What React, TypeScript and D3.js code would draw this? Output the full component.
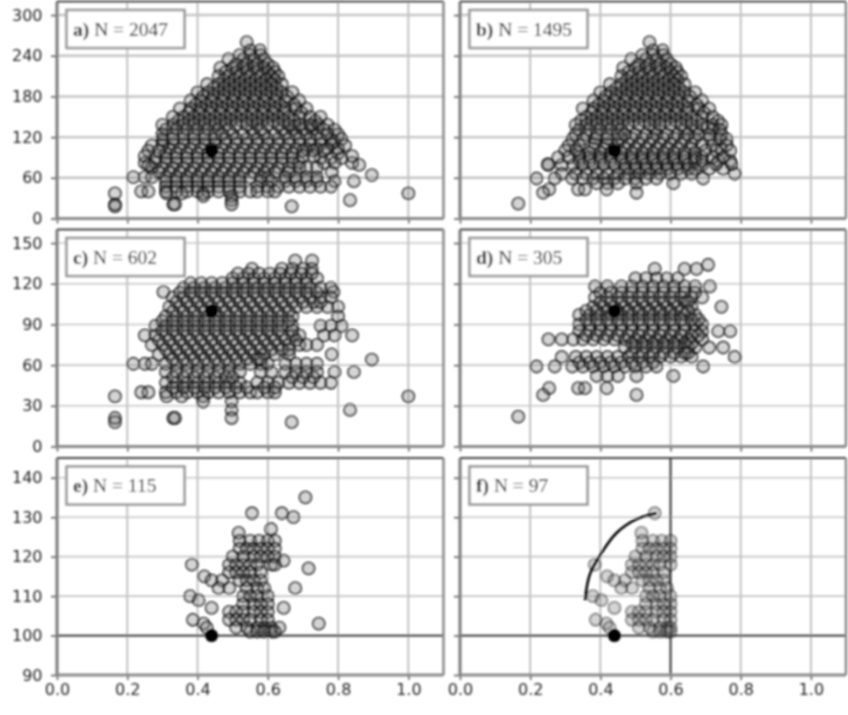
import React, { useEffect, useRef } from "react";
import * as d3 from "d3";

type Row = [number, number[]];

// rows are [y, x values], the points sit on a rough lattice in the picture
const rowsC: Row[] = [
  [137, [0.678, 0.726]],
  [131, [0.555, 0.64, 0.67, 0.7, 0.725]],
  [124, [0.5, 0.53, 0.56, 0.59, 0.62, 0.65, 0.68, 0.71, 0.74]],
  [117, [0.36, 0.39, 0.42, 0.45, 0.48, 0.51, 0.54, 0.57, 0.6, 0.63, 0.66, 0.69, 0.72, 0.75, 0.78]],
  [114, [0.303, 0.787]],
  [110, [0.33, 0.36, 0.39, 0.42, 0.45, 0.48, 0.51, 0.54, 0.57, 0.6, 0.63, 0.66, 0.69, 0.72, 0.75, 0.78]],
  [103, [0.32, 0.35, 0.38, 0.41, 0.44, 0.47, 0.5, 0.53, 0.56, 0.59, 0.62, 0.65, 0.68, 0.71, 0.74, 0.77, 0.8]],
  [96, [0.31, 0.34, 0.37, 0.4, 0.43, 0.46, 0.49, 0.52, 0.55, 0.58, 0.61, 0.64, 0.67, 0.8]],
  [89, [0.28, 0.31, 0.34, 0.37, 0.4, 0.43, 0.46, 0.49, 0.52, 0.55, 0.58, 0.61, 0.64, 0.67, 0.75, 0.78, 0.81]],
  [82, [0.25, 0.28, 0.31, 0.34, 0.37, 0.4, 0.43, 0.46, 0.49, 0.52, 0.55, 0.58, 0.61, 0.64, 0.67, 0.69, 0.76, 0.79, 0.84]],
  [75, [0.27, 0.3, 0.33, 0.36, 0.39, 0.42, 0.45, 0.48, 0.51, 0.54, 0.57, 0.6, 0.63, 0.66, 0.69, 0.71, 0.74]],
  [68, [0.29, 0.32, 0.35, 0.38, 0.41, 0.44, 0.47, 0.5, 0.53, 0.56, 0.59, 0.62, 0.66, 0.782]],
  [64, [0.896]],
  [61, [0.217, 0.25, 0.27, 0.31, 0.34, 0.37, 0.4, 0.43, 0.46, 0.49, 0.52, 0.55, 0.58, 0.6, 0.65, 0.68, 0.71, 0.74]],
  [55, [0.31, 0.34, 0.37, 0.4, 0.43, 0.46, 0.49, 0.52, 0.58, 0.61, 0.65, 0.68, 0.71, 0.74, 0.79, 0.845]],
  [47, [0.31, 0.34, 0.37, 0.4, 0.43, 0.46, 0.49, 0.52, 0.57, 0.6, 0.63, 0.66, 0.69, 0.72, 0.75, 0.78]],
  [40, [0.24, 0.26, 0.31, 0.34, 0.37, 0.4, 0.43, 0.46, 0.49, 0.52, 0.55, 0.57, 0.6, 0.62]],
  [37, [0.165, 0.312, 0.355, 0.416, 1.0]],
  [33, [0.416, 0.497]],
  [27, [0.497, 0.834]],
  [21, [0.165, 0.331, 0.336, 0.497]],
  [18, [0.165, 0.668]],
];

// in-between rows that only show up at the zoomed scale of panel c
const fillC: Row[] = [
  [127.5, [0.515, 0.545, 0.575, 0.605, 0.635, 0.665, 0.695, 0.725]],
  [120.5, [0.38, 0.41, 0.44, 0.47, 0.5, 0.53, 0.56, 0.59, 0.62, 0.65, 0.68, 0.71]],
  [113.5, [0.35, 0.38, 0.41, 0.44, 0.47, 0.5, 0.53, 0.56, 0.59, 0.62, 0.65, 0.68, 0.71, 0.74]],
  [106.5, [0.34, 0.37, 0.4, 0.43, 0.46, 0.49, 0.52, 0.55, 0.58, 0.61, 0.64, 0.67, 0.7, 0.73, 0.75]],
  [99.5, [0.33, 0.36, 0.39, 0.42, 0.45, 0.48, 0.51, 0.54, 0.57, 0.6, 0.63, 0.66]],
  [92.5, [0.3, 0.33, 0.36, 0.39, 0.42, 0.45, 0.48, 0.51, 0.54, 0.57, 0.6, 0.63, 0.66]],
  [85.5, [0.3, 0.33, 0.36, 0.39, 0.42, 0.45, 0.48, 0.51, 0.54, 0.57, 0.6, 0.63, 0.67]],
  [78.5, [0.29, 0.32, 0.35, 0.38, 0.41, 0.44, 0.47, 0.5, 0.53, 0.56, 0.59, 0.62, 0.65, 0.68]],
  [71.5, [0.31, 0.34, 0.37, 0.4, 0.43, 0.46, 0.49, 0.52, 0.55, 0.58, 0.61, 0.64, 0.66]],
  [64.5, [0.33, 0.36, 0.39, 0.42, 0.45, 0.48, 0.51, 0.54, 0.57, 0.58]],
  [51, [0.33, 0.36, 0.39, 0.42, 0.45, 0.48, 0.5, 0.67, 0.7, 0.73]],
  [43.5, [0.33, 0.36, 0.39, 0.42, 0.45, 0.48, 0.51, 0.54, 0.59, 0.62]],
];

const rowsD: Row[] = [
  [134, [0.707]],
  [131, [0.555, 0.64, 0.674]],
  [124, [0.5, 0.53, 0.56, 0.59, 0.62]],
  [118, [0.385, 0.42, 0.46, 0.49, 0.52, 0.55, 0.58, 0.61, 0.64, 0.67, 0.712]],
  [110, [0.385, 0.42, 0.45, 0.48, 0.51, 0.54, 0.57, 0.6, 0.63, 0.66, 0.69]],
  [103, [0.38, 0.41, 0.44, 0.47, 0.5, 0.53, 0.56, 0.59, 0.62, 0.66, 0.745]],
  [97, [0.34, 0.37, 0.4, 0.43, 0.46, 0.49, 0.52, 0.55, 0.58, 0.61, 0.64, 0.67]],
  [90, [0.34, 0.37, 0.4, 0.43, 0.46, 0.49, 0.52, 0.55, 0.58, 0.61, 0.64, 0.67, 0.69]],
  [85, [0.34, 0.37, 0.4, 0.43, 0.46, 0.49, 0.52, 0.55, 0.58, 0.61, 0.64, 0.67, 0.69, 0.736, 0.77]],
  [79, [0.252, 0.29, 0.323, 0.35, 0.38, 0.41, 0.44, 0.47, 0.5, 0.53, 0.56, 0.59, 0.62, 0.65, 0.69]],
  [73, [0.47, 0.5, 0.53, 0.56, 0.59, 0.62, 0.65, 0.67, 0.71, 0.75]],
  [66, [0.29, 0.33, 0.36, 0.39, 0.42, 0.45, 0.48, 0.51, 0.54, 0.57, 0.6, 0.63, 0.66, 0.783]],
  [59, [0.218, 0.27, 0.32, 0.35, 0.38, 0.41, 0.44, 0.47, 0.5, 0.53, 0.56, 0.693]],
  [52, [0.39, 0.42, 0.45, 0.503, 0.608]],
  [43, [0.254, 0.337, 0.356, 0.418]],
  [38, [0.237, 0.503]],
  [22, [0.166]],
];

const fillD: Row[] = [
  [113.5, [0.4, 0.43, 0.46, 0.49, 0.52, 0.55, 0.58, 0.61, 0.64, 0.67]],
  [106.5, [0.4, 0.43, 0.46, 0.49, 0.52, 0.55, 0.58, 0.61, 0.64, 0.65]],
  [100, [0.36, 0.39, 0.42, 0.45, 0.48, 0.51, 0.54, 0.57, 0.6, 0.63, 0.65]],
  [93.5, [0.36, 0.39, 0.42, 0.45, 0.48, 0.51, 0.54, 0.57, 0.6, 0.63, 0.66, 0.68]],
  [82, [0.36, 0.39, 0.42, 0.45, 0.48, 0.51, 0.54, 0.57, 0.6, 0.63, 0.66, 0.68]],
  [76, [0.49, 0.52, 0.55, 0.58, 0.61, 0.64, 0.66]],
  [69, [0.49, 0.52, 0.55, 0.58, 0.61, 0.64, 0.65]],
  [62, [0.34, 0.37, 0.4, 0.43, 0.46, 0.49, 0.52, 0.55]],
];

const upperRows: Row[] = [
  [260, [0.54]],
  [248, [0.55, 0.578]],
  [241, [0.52, 0.55, 0.58]],
  [235, [0.488, 0.53, 0.56, 0.59]],
  [228, [0.51, 0.54, 0.57, 0.6]],
  [222, [0.465, 0.5, 0.53, 0.56, 0.59, 0.615]],
  [216, [0.48, 0.51, 0.54, 0.57, 0.6, 0.62]],
  [210, [0.46, 0.49, 0.52, 0.55, 0.58, 0.61, 0.63]],
  [204, [0.475, 0.505, 0.535, 0.565, 0.595, 0.62]],
  [198, [0.427, 0.46, 0.49, 0.52, 0.55, 0.58, 0.61, 0.64]],
  [192, [0.445, 0.475, 0.505, 0.535, 0.565, 0.595, 0.625]],
  [186, [0.4, 0.43, 0.46, 0.49, 0.52, 0.55, 0.58, 0.61, 0.64, 0.67]],
  [180, [0.415, 0.445, 0.475, 0.505, 0.535, 0.565, 0.595, 0.625, 0.655]],
  [174, [0.38, 0.41, 0.44, 0.47, 0.5, 0.53, 0.56, 0.59, 0.62, 0.65, 0.69]],
  [168, [0.395, 0.425, 0.455, 0.485, 0.515, 0.545, 0.575, 0.605, 0.635, 0.675]],
  [162, [0.35, 0.38, 0.41, 0.44, 0.47, 0.5, 0.53, 0.56, 0.59, 0.62, 0.65, 0.68, 0.71]],
  [156, [0.375, 0.405, 0.435, 0.465, 0.495, 0.525, 0.555, 0.585, 0.615, 0.645, 0.695]],
  [150, [0.36, 0.39, 0.42, 0.45, 0.48, 0.51, 0.54, 0.57, 0.6, 0.63, 0.66, 0.69, 0.72]],
  [144, [0.345, 0.375, 0.405, 0.435, 0.465, 0.495, 0.525, 0.555, 0.585, 0.615, 0.645, 0.675, 0.735]],
  [138, [0.33, 0.36, 0.39, 0.42, 0.45, 0.48, 0.51, 0.54, 0.57, 0.6, 0.63, 0.66, 0.69, 0.72, 0.745]],
];

// points of a and b that the later panels drop
const extraA: Row[] = [
  [150, [0.33, 0.75]],
  [138, [0.3, 0.77]],
  [131, [0.31, 0.34, 0.37, 0.4, 0.43, 0.46, 0.49, 0.58, 0.76, 0.79]],
  [124, [0.3, 0.33, 0.36, 0.39, 0.42, 0.45, 0.47, 0.77, 0.8]],
  [117, [0.3, 0.33, 0.81]],
  [108, [0.27, 0.3, 0.82]],
  [100, [0.26, 0.29, 0.7, 0.73, 0.76]],
  [92, [0.25, 0.7, 0.73, 0.84]],
  [79, [0.26, 0.86]],
];
const extraB: Row[] = [
  [131, [0.34, 0.37, 0.4, 0.43, 0.46, 0.72, 0.74]],
  [124, [0.33, 0.36, 0.39, 0.42, 0.45, 0.47, 0.65, 0.68, 0.71, 0.745]],
  [117, [0.32, 0.35, 0.74, 0.76]],
  [108, [0.31, 0.34, 0.72, 0.76]],
  [100, [0.3, 0.33, 0.7, 0.73, 0.77]],
  [90, [0.28, 0.31, 0.72, 0.75]],
  [80, [0.25, 0.73, 0.774]],
];

const rowsE: Row[] = [
  [135, [0.707]],
  [131, [0.555, 0.64]],
  [130, [0.673]],
  [127, [0.609]],
  [126, [0.517]],
  [124, [0.52, 0.55, 0.575, 0.6, 0.62]],
  [122, [0.52, 0.54, 0.56, 0.58, 0.6, 0.62]],
  [120, [0.5, 0.53, 0.56, 0.58, 0.6, 0.62]],
  [119, [0.645]],
  [118, [0.384, 0.49, 0.51, 0.53, 0.55, 0.57, 0.61, 0.62]],
  [117, [0.716]],
  [116, [0.49, 0.51, 0.53, 0.55, 0.58]],
  [115, [0.419]],
  [114, [0.44, 0.47, 0.52, 0.54, 0.56, 0.58]],
  [112, [0.46, 0.49, 0.54, 0.57, 0.59, 0.678]],
  [110, [0.379, 0.53, 0.55, 0.57, 0.6]],
  [109, [0.403]],
  [108, [0.53, 0.56, 0.58, 0.6]],
  [107, [0.44, 0.645]],
  [106, [0.49, 0.51, 0.53, 0.56, 0.58, 0.6]],
  [104, [0.387, 0.49, 0.51, 0.53, 0.55, 0.58, 0.6]],
  [103, [0.417, 0.745]],
  [102, [0.426, 0.51, 0.54, 0.57, 0.59, 0.61, 0.633]],
  [101, [0.55, 0.57, 0.59, 0.61, 0.62]],
];

const rowsF: Row[] = [
  [131, [0.555]],
  [126, [0.517]],
  [124, [0.52, 0.55, 0.575, 0.6]],
  [122, [0.52, 0.54, 0.56, 0.58, 0.6]],
  [120, [0.5, 0.53, 0.56, 0.58, 0.6]],
  [118, [0.384, 0.49, 0.51, 0.53, 0.55, 0.57, 0.6]],
  [116, [0.49, 0.51, 0.53, 0.55, 0.58]],
  [115, [0.419]],
  [114, [0.44, 0.47, 0.52, 0.54, 0.56, 0.58]],
  [112, [0.46, 0.49, 0.54, 0.57, 0.59]],
  [110, [0.379, 0.53, 0.55, 0.57, 0.6]],
  [109, [0.403]],
  [108, [0.53, 0.56, 0.58, 0.6]],
  [107, [0.44]],
  [106, [0.49, 0.51, 0.53, 0.56, 0.58, 0.6]],
  [104, [0.387, 0.49, 0.51, 0.53, 0.55, 0.58, 0.6]],
  [103, [0.417]],
  [102, [0.426, 0.51, 0.54, 0.57, 0.59, 0.6]],
  [101, [0.55, 0.57, 0.59, 0.6]],
];

const arcF: [number, number][] = [
  [0.356, 109],
  [0.37, 115.5],
  [0.4, 120.5],
  [0.446, 126],
  [0.503, 129.5],
  [0.56, 131],
];

const refPoint: [number, number] = [0.44, 100];
const xTicks = [0, 0.2, 0.4, 0.6, 0.8, 1.0];
const yTicksTop = [0, 60, 120, 180, 240, 300];
const yTicksMid = [0, 30, 60, 90, 120, 150];
const yTicksLow = [90, 100, 110, 120, 130, 140];
const labels = ["a) N = 2047", "b) N = 1495", "c) N = 602", "d) N = 305", "e) N = 115", "f) N = 97"];

const flat = (rows: Row[]) => rows.flatMap(([y, xs]) => xs.map((x) => [x, y] as [number, number]));

const pointSets = [
  flat([...rowsC, ...upperRows, ...extraA]),
  flat([...rowsD, ...upperRows, ...extraB]),
  flat([...rowsC, ...fillC]),
  flat([...rowsD, ...fillD]),
  flat(rowsE),
  flat(rowsF),
];

const rowBoxes = [
  { top: 1.5, bottom: 218.5, domain: [0, 320], ticks: yTicksTop },
  { top: 229.5, bottom: 446.5, domain: [0, 160], ticks: yTicksMid },
  { top: 458, bottom: 675, domain: [90, 145], ticks: yTicksLow },
];
const colBoxes = [
  { left: 57, right: 443.5 },
  { left: 460, right: 846 },
];

export default function App() {
  const ref = useRef<SVGSVGElement>(null);

  useEffect(() => {
    const svg = d3.select(ref.current);
    svg.selectAll("*").remove();
    const defs = svg.append("defs");
    defs.append("filter").attr("id", "soft").append("feGaussianBlur").attr("stdDeviation", 0.8);
    const root = svg.append("g").attr("filter", "url(#soft)");

    labels.forEach((label, i) => {
      const col = i % 2;
      const row = Math.floor(i / 2);
      const box = rowBoxes[row];
      const c = colBoxes[col];
      const x = d3.scaleLinear().domain([0, 1.1]).range([c.left, c.right]);
      const y = d3.scaleLinear().domain(box.domain).range([box.bottom, box.top]);
      const g = root.append("g");
      const clipId = `clip-${i}`;
      defs
        .append("clipPath")
        .attr("id", clipId)
        .append("rect")
        .attr("x", c.left)
        .attr("y", box.top)
        .attr("width", c.right - c.left)
        .attr("height", box.bottom - box.top);

      // grid
      g.selectAll(".gx")
        .data(xTicks)
        .join("line")
        .attr("x1", (d) => x(d))
        .attr("x2", (d) => x(d))
        .attr("y1", box.top)
        .attr("y2", box.bottom)
        .attr("stroke", "#b4b4b4")
        .attr("stroke-width", 1.6);
      g.selectAll(".gy")
        .data(box.ticks)
        .join("line")
        .attr("x1", c.left)
        .attr("x2", c.right)
        .attr("y1", (d) => y(d))
        .attr("y2", (d) => y(d))
        .attr("stroke", "#c4c4c4")
        .attr("stroke-width", row === 0 ? 2.4 : 1.6);

      // axes
      const yAxis = g
        .append("g")
        .attr("transform", `translate(${c.left},0)`)
        .call(
          d3
            .axisLeft(y)
            .tickValues(box.ticks)
            .tickSize(6)
            .tickFormat(col === 0 ? (d) => String(d) : () => "")
        );
      yAxis.select(".domain").remove();
      yAxis.selectAll("line").attr("stroke", "#555").attr("stroke-width", 1.5);
      yAxis
        .selectAll("text")
        .attr("font-family", "DejaVu Sans")
        .attr("font-size", 16)
        .attr("fill", "#222")
        .attr("x", -14.5);

      const xAxis = g
        .append("g")
        .attr("transform", `translate(0,${box.bottom})`)
        .call(
          d3
            .axisBottom(x)
            .tickValues(xTicks)
            .tickSize(5)
            .tickFormat(row === 2 ? (d) => d3.format(".1f")(d as number) : () => "")
        );
      xAxis.select(".domain").remove();
      xAxis.selectAll("line").attr("stroke", "#555").attr("stroke-width", 1.5);
      xAxis
        .selectAll("text")
        .attr("font-family", "DejaVu Sans")
        .attr("font-size", 16)
        .attr("fill", "#222")
        .attr("y", 9);

      const plot = g.append("g").attr("clip-path", `url(#${clipId})`);

      // limits used in the lower panels
      if (row === 2) {
        plot
          .append("line")
          .attr("x1", c.left)
          .attr("x2", c.right)
          .attr("y1", y(100))
          .attr("y2", y(100))
          .attr("stroke", "#222")
          .attr("stroke-width", 1.8);
      }
      if (i === 5) {
        plot
          .append("line")
          .attr("x1", x(0.6))
          .attr("x2", x(0.6))
          .attr("y1", box.top)
          .attr("y2", box.bottom)
          .attr("stroke", "#222")
          .attr("stroke-width", 1.8);
      }

      plot
        .selectAll(".pt")
        .data(pointSets[i])
        .join("circle")
        .attr("cx", (d) => x(d[0]))
        .attr("cy", (d) => y(d[1]))
        .attr("r", 6)
        .attr("fill", "#707070")
        .attr("fill-opacity", 0.3)
        .attr("stroke", "#000")
        .attr("stroke-opacity", i === 5 ? 0.45 : 0.7)
        .attr("stroke-width", 1.8);

      plot
        .append("circle")
        .attr("cx", x(refPoint[0]))
        .attr("cy", y(refPoint[1]))
        .attr("r", 6.5)
        .attr("fill", "#000");

      if (i === 5) {
        const line = d3
          .line<[number, number]>()
          .x((d) => x(d[0]))
          .y((d) => y(d[1]))
          .curve(d3.curveCatmullRom);
        plot
          .append("path")
          .attr("d", line(arcF))
          .attr("fill", "none")
          .attr("stroke", "#000")
          .attr("stroke-width", 2.6);
      }

      // frame
      g.append("line")
        .attr("x1", c.left)
        .attr("x2", c.left)
        .attr("y1", box.top)
        .attr("y2", box.bottom)
        .attr("stroke", "#7a7a7a")
        .attr("stroke-width", 3);
      g.append("line")
        .attr("x1", c.left)
        .attr("x2", c.right)
        .attr("y1", box.bottom)
        .attr("y2", box.bottom)
        .attr("stroke", "#8a8a8a")
        .attr("stroke-width", 3);
      g.append("line")
        .attr("x1", c.left)
        .attr("x2", c.right)
        .attr("y1", box.top)
        .attr("y2", box.top)
        .attr("stroke", "#444")
        .attr("stroke-width", 2);
      g.append("line")
        .attr("x1", c.right)
        .attr("x2", c.right)
        .attr("y1", box.top)
        .attr("y2", box.bottom)
        .attr("stroke", "#888")
        .attr("stroke-width", 2.5);

      // label box
      g.append("rect")
        .attr("x", c.left + 9.5)
        .attr("y", box.top + 8.5)
        .attr("width", 118)
        .attr("height", 38)
        .attr("fill", "#fff")
        .attr("stroke", "#999")
        .attr("stroke-width", 2.6);
      const t = g
        .append("text")
        .attr("x", c.left + 16)
        .attr("y", box.top + 34)
        .attr("font-family", "Liberation Serif")
        .attr("font-size", 19.5)
        .attr("fill", "#000");
      const [tag, ...rest] = label.split(" ");
      t.append("tspan").attr("font-weight", "bold").text(tag);
      t.append("tspan").attr("xml:space", "preserve").text(" " + rest.join(" "));
    });
  }, []);

  return (
    <svg
      ref={ref}
      width={848}
      height={715}
      style={{ position: "absolute", left: 0, top: 0, background: "#fff" }}
    />
  );
}
